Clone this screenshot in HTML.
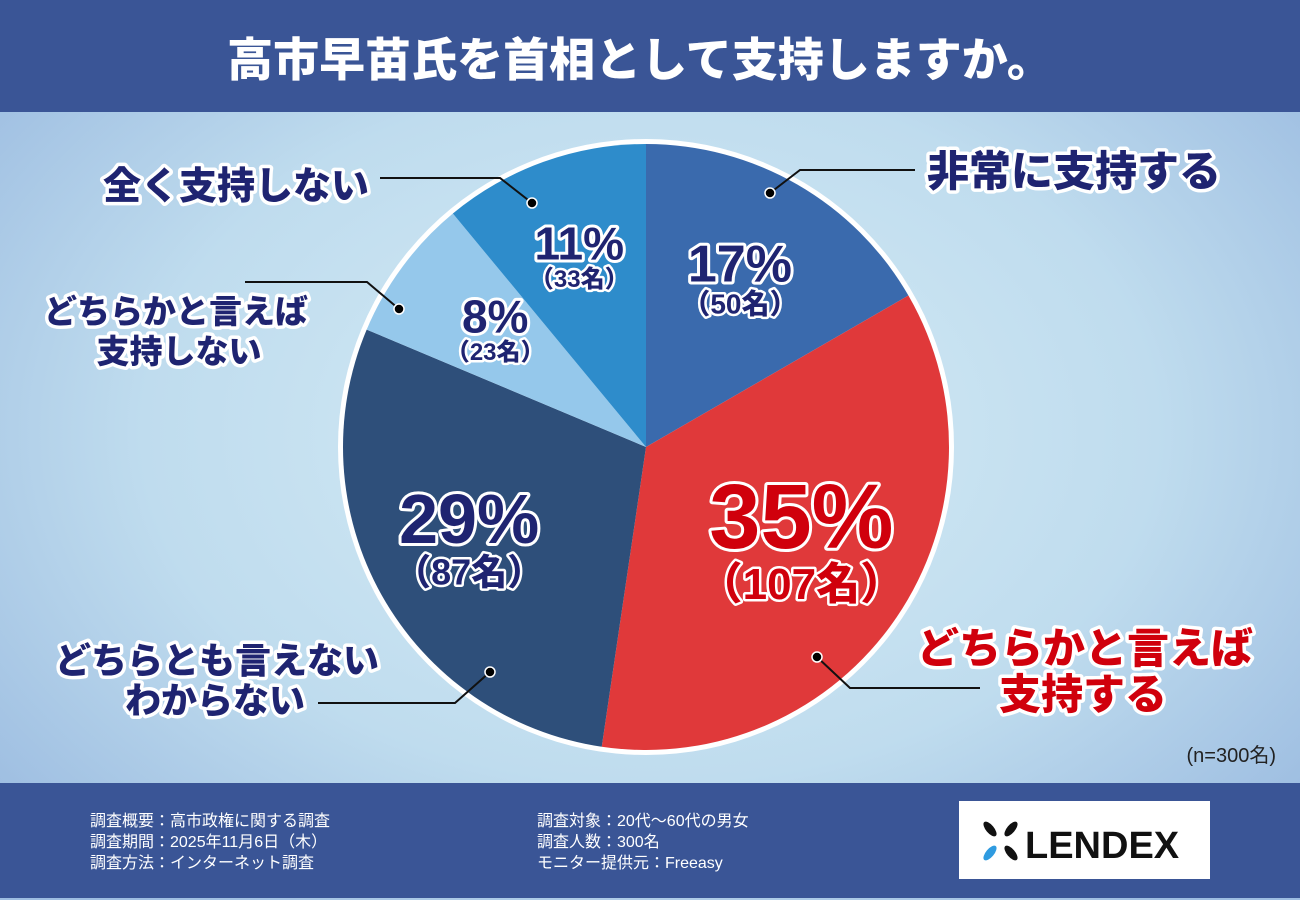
<!DOCTYPE html>
<html><head><meta charset="utf-8">
<style>
body{margin:0;width:1300px;height:900px;overflow:hidden;font-family:"Liberation Sans","Noto Sans CJK JP",sans-serif;}
svg text{font-family:"Liberation Sans","Noto Sans CJK JP",sans-serif;font-weight:900;paint-order:stroke;stroke-linejoin:round;}
</style></head><body>
<svg width="1300" height="900" viewBox="0 0 1300 900">
<defs>
<radialGradient id="bg" cx="50%" cy="48%" r="65%">
<stop offset="0" stop-color="#d6ecf6"/><stop offset="0.6" stop-color="#bfdcee"/><stop offset="1" stop-color="#9dbde1"/>
</radialGradient>
</defs>
<rect x="0" y="0" width="1300" height="900" fill="url(#bg)"/>
<rect x="0" y="0" width="1300" height="112" fill="#3a5596"/>
<text x="640" y="76" text-anchor="middle" font-size="46" fill="#fff">高市早苗氏を首相として支持しますか。</text>
<circle cx="646" cy="447" r="308" fill="#fff"/>
<g id="slices"></g>
<g id="labels"></g>
<text x="1276" y="762" text-anchor="end" font-size="20" style="font-weight:400" fill="#222">(n=300名)</text>
<rect x="0" y="783" width="1300" height="115" fill="#3a5596"/>
<g font-size="16" fill="#fff">
<text x="90" y="826" style="font-weight:400">調査概要：高市政権に関する調査</text>
<text x="90" y="847" style="font-weight:400">調査期間：2025年11月6日（木）</text>
<text x="90" y="868" style="font-weight:400">調査方法：インターネット調査</text>
<text x="537" y="826" style="font-weight:400">調査対象：20代〜60代の男女</text>
<text x="537" y="847" style="font-weight:400">調査人数：300名</text>
<text x="537" y="868" style="font-weight:400">モニター提供元：Freeasy</text>
</g>
<g>
<rect x="959" y="801" width="251" height="78" fill="#fff"/>
<ellipse cx="990" cy="829" rx="4" ry="9" transform="rotate(-40 990 829)" fill="#111"/>
<ellipse cx="1011" cy="829" rx="4" ry="9" transform="rotate(40 1011 829)" fill="#111"/>
<ellipse cx="990" cy="853" rx="4" ry="9" transform="rotate(40 990 853)" fill="#2f9be0"/>
<ellipse cx="1011" cy="853" rx="4" ry="9" transform="rotate(-40 1011 853)" fill="#111"/>
<text x="1025" y="858" font-size="38" fill="#111" style="font-weight:700">LENDEX</text>
</g>
</svg>
<script>
const categories=["非常に支持する","どちらかと言えば支持する","どちらとも言えない・わからない","どちらかと言えば支持しない","全く支持しない"];
const counts=[50,107,87,23,33];
const percentLabels=["17%","35%","29%","8%","11%"];
const colors=["#3a6aad","#e0393a","#2e4f7a","#95c8eb","#2e8ccb"];
const NS="http://www.w3.org/2000/svg";
const cx=646,cy=447,R=303;
const total=counts.reduce((a,b)=>a+b,0);
const sl=document.getElementById('slices');
let a0=0;
function pt(a,r){return [cx+r*Math.sin(a),cy-r*Math.cos(a)];}
const mids=[];
counts.forEach((c,i)=>{
  const a1=a0+c/total*2*Math.PI;
  const p0=pt(a0,R),p1=pt(a1,R);
  const p=document.createElementNS(NS,'path');
  p.setAttribute('d',`M${cx},${cy}L${p0[0]},${p0[1]}A${R},${R} 0 ${a1-a0>Math.PI?1:0} 1 ${p1[0]},${p1[1]}Z`);
  p.setAttribute('fill',colors[i]);
  
  
  sl.appendChild(p);
  mids.push((a0+a1)/2);
  a0=a1;
});
const lb=document.getElementById('labels');
function txt(x,y,s,size,fill,sw,name){
  const t=document.createElementNS(NS,'text');
  t.setAttribute('x',x);t.setAttribute('y',y);t.setAttribute('text-anchor','middle');
  t.setAttribute('font-size',size);t.setAttribute('fill',fill);
  t.setAttribute('stroke','#fff');t.setAttribute('stroke-width',sw);
  t.textContent=s;
  
  
  lb.appendChild(t);
}
const pctR=[0.62,0.62,0.67,0.62,0.65];
const pctSize=[52,92,70,46,46];
const cntSize=[28,44,36,24,24];
counts.forEach((c,i)=>{
  const p=pt(mids[i],R*pctR[i]);
  const fill=i===1?"#d0000c":"#1f2471";
  txt(p[0],p[1]-pctSize[i]*0.05,percentLabels[i],pctSize[i],fill,6,'percent-label-'+(i+1));
  txt(p[0],p[1]+cntSize[i]*1.05,"（"+c+"名）",cntSize[i],fill,5,'count-label-'+(i+1));
});
const leaders=[
 [[770,193],[800,170],[915,170]],
 [[817,657],[850,688],[980,688]],
 [[490,672],[455,703],[318,703]],
 [[399,309],[367,282],[245,282]],
 [[532,203],[500,178],[380,178]]];
leaders.forEach((l,i)=>{
  const pl=document.createElementNS(NS,'polyline');
  pl.setAttribute('points',l.map(q=>q.join(',')).join(' '));
  pl.setAttribute('fill','none');pl.setAttribute('stroke','#111');pl.setAttribute('stroke-width','2');
  
  
  lb.appendChild(pl);
  const c1=document.createElementNS(NS,'circle');
  c1.setAttribute('cx',l[0][0]);c1.setAttribute('cy',l[0][1]);c1.setAttribute('r',5);
  c1.setAttribute('fill','#000');c1.setAttribute('stroke','#fff');c1.setAttribute('stroke-width','1.5');
  
  
  lb.appendChild(c1);
});
const N="#1f2471";
txt(1074,186,"非常に支持する",42,N,7,'category-label-1');
txt(1085,663,"どちらかと言えば",42,"#d0000c",7,'category-label-2a');
txt(1083,709,"支持する",42,"#d0000c",7,'category-label-2b');
txt(217,673,"どちらとも言えない",36,N,7,'category-label-3a');
txt(215,713,"わからない",36,N,7,'category-label-3b');
txt(176,323,"どちらかと言えば",33,N,7,'category-label-4a');
txt(179,363,"支持しない",33,N,7,'category-label-4b');
txt(236,199,"全く支持しない",38,N,7,'category-label-5');
</script>
</body></html>
